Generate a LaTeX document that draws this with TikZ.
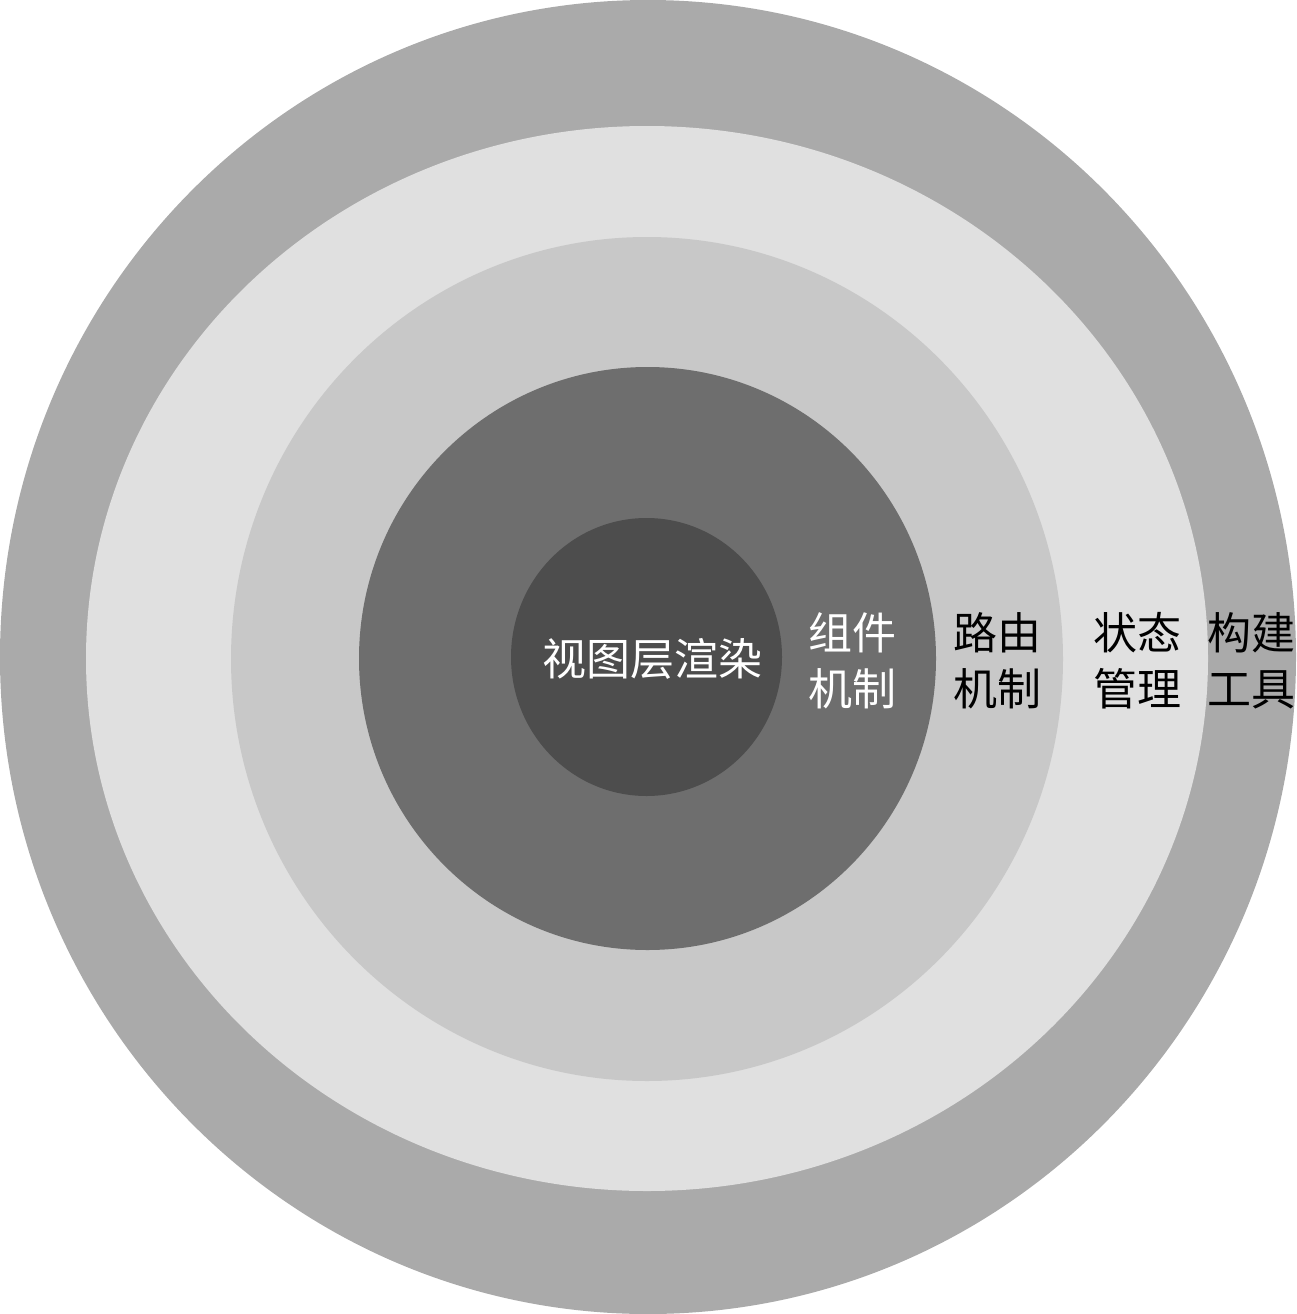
\documentclass[tikz,border=0pt]{standalone}
\usepackage{fontspec}
\newfontfamily\cjk{Noto Sans CJK SC}
\definecolor{ringA}{HTML}{AAAAAA}
\definecolor{ringB}{HTML}{E0E0E0}
\definecolor{ringC}{HTML}{C8C8C8}
\definecolor{ringD}{HTML}{6E6E6E}
\definecolor{ringE}{HTML}{4D4D4D}
\tikzset{
  ring/.style={draw=none},
  lbl/.style={font=\cjk\fontsize{44}{56}\selectfont, align=center, inner sep=0pt},
}
\begin{document}
\begin{tikzpicture}[x=1pt,y=-1pt]
\useasboundingbox (0,0) rectangle (1296,1314);
\fill[ring, ringA] (648,657) ellipse [x radius=648, y radius=657];
\fill[ring, ringB] (647,658.5) ellipse [x radius=561, y radius=532.5];
\fill[ring, ringC] (647,659) ellipse [x radius=416, y radius=422];
\fill[ring, ringD] (647.5,658.5) ellipse [x radius=288.5, y radius=291.5];
\fill[ring, ringE] (646.5,657) ellipse [x radius=135.5, y radius=139];
\node[lbl, text=white] (core) at (652,659) {视图层渲染};
\node[lbl, text=white] (comp) at (852,661) {组件\\机制};
\node[lbl, text=black] (route) at (997,661) {路由\\机制};
\node[lbl, text=black] (state) at (1137,661) {状态\\管理};
\node[lbl, text=black] (build) at (1251,661) {构建\\工具};
\end{tikzpicture}
\end{document}
